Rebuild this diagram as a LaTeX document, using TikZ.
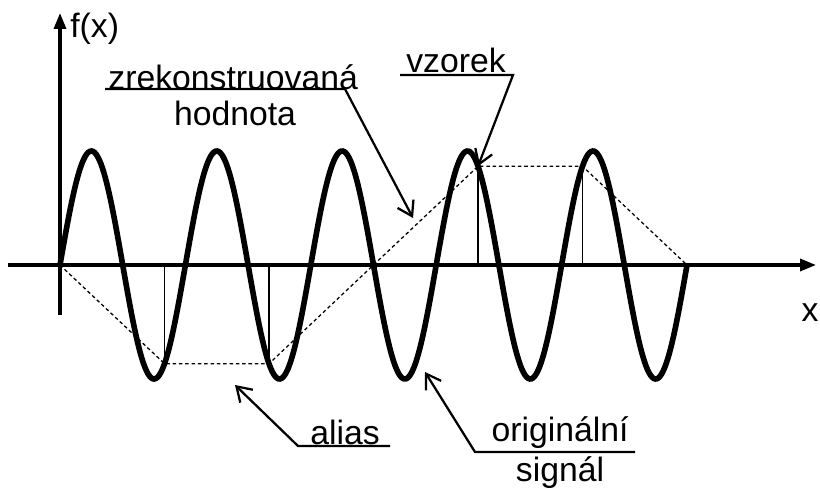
\documentclass[tikz,border=0pt]{standalone}
\usepackage{fontspec}
\setmainfont{Liberation Sans}
\usetikzlibrary{arrows.meta}

\begin{document}
\begin{tikzpicture}[
  axis/.style={line width=2.4pt, -{Triangle[length=4mm,width=3mm]}},
  signal/.style={line width=4pt},
  sample/.style={line width=1.4pt},
  alias line/.style={line width=0.9pt, dash pattern=on 2.5pt off 2pt},
  leader/.style={line width=1.6pt, -{Straight Barb[length=3.5mm,width=4.5mm]}},
  label/.style={font=\fontsize{24}{28}\selectfont, inner sep=0pt}
]
\useasboundingbox (-1.5,-5.65) rectangle (19,6.625);

% Axes
\draw[axis] (-1.3,0) -- (18.9,0);
\draw[axis] (0,-1.25) -- (0,6.3);
\node[label, anchor=west] (fx) at (0.25,5.9) {f(x)};
\node[label] (xlab) at (18.75,-1.2) {x};

% Original signal
\draw[signal] plot[domain=0:15.675, samples=400, smooth] (\x, {2.85*sin(\x/3.135*360)});

% Samples
\foreach \k in {0,...,6}
  \coordinate (s\k) at ({\k*2.6125}, {2.85*sin(\k*300)});
\foreach \k in {1,2,4,5}
  \draw[sample] (s\k |- 0,0) -- (s\k);

% Reconstructed (alias) signal
\draw[alias line] (s0) -- (s1) -- (s2) -- (s4) -- (s5) -- (s6);

% Labels
\node[label] (rec) at (4.33,4.7) {zrekonstruovaná};
\node[label] (recb) at (4.375,3.8) {hodnota};
\coordinate (recL) at (1.125,4.4);
\coordinate (recR) at (7.125,4.4);
\coordinate (recT) at (8.825,1.175);
\draw[leader] (recL) -- (recR) -- (recT);

\node[label] (vz) at (9.9,5.125) {vzorek};
\coordinate (vzL) at (8.5,4.75);
\coordinate (vzR) at (11.325,4.75);
\draw[leader] (vzL) -- (vzR) -- (s4);

\node[label] (al) at (7.125,-4.175) {alias};
\coordinate (alR) at (8.25,-4.525);
\coordinate (alL) at (5.95,-4.525);
\coordinate (alT) at (4.375,-3.0);
\draw[leader] (alR) -- (alL) -- (alT);

\node[label] (orig) at (12.5,-4.2) {originální};
\node[label] (origb) at (12.5,-5.2) {signál};
\coordinate (origR) at (14.375,-4.675);
\coordinate (origL) at (10.375,-4.675);
\coordinate (origT) at (9.125,-2.675);
\draw[leader] (origR) -- (origL) -- (origT);
\end{tikzpicture}
\end{document}
